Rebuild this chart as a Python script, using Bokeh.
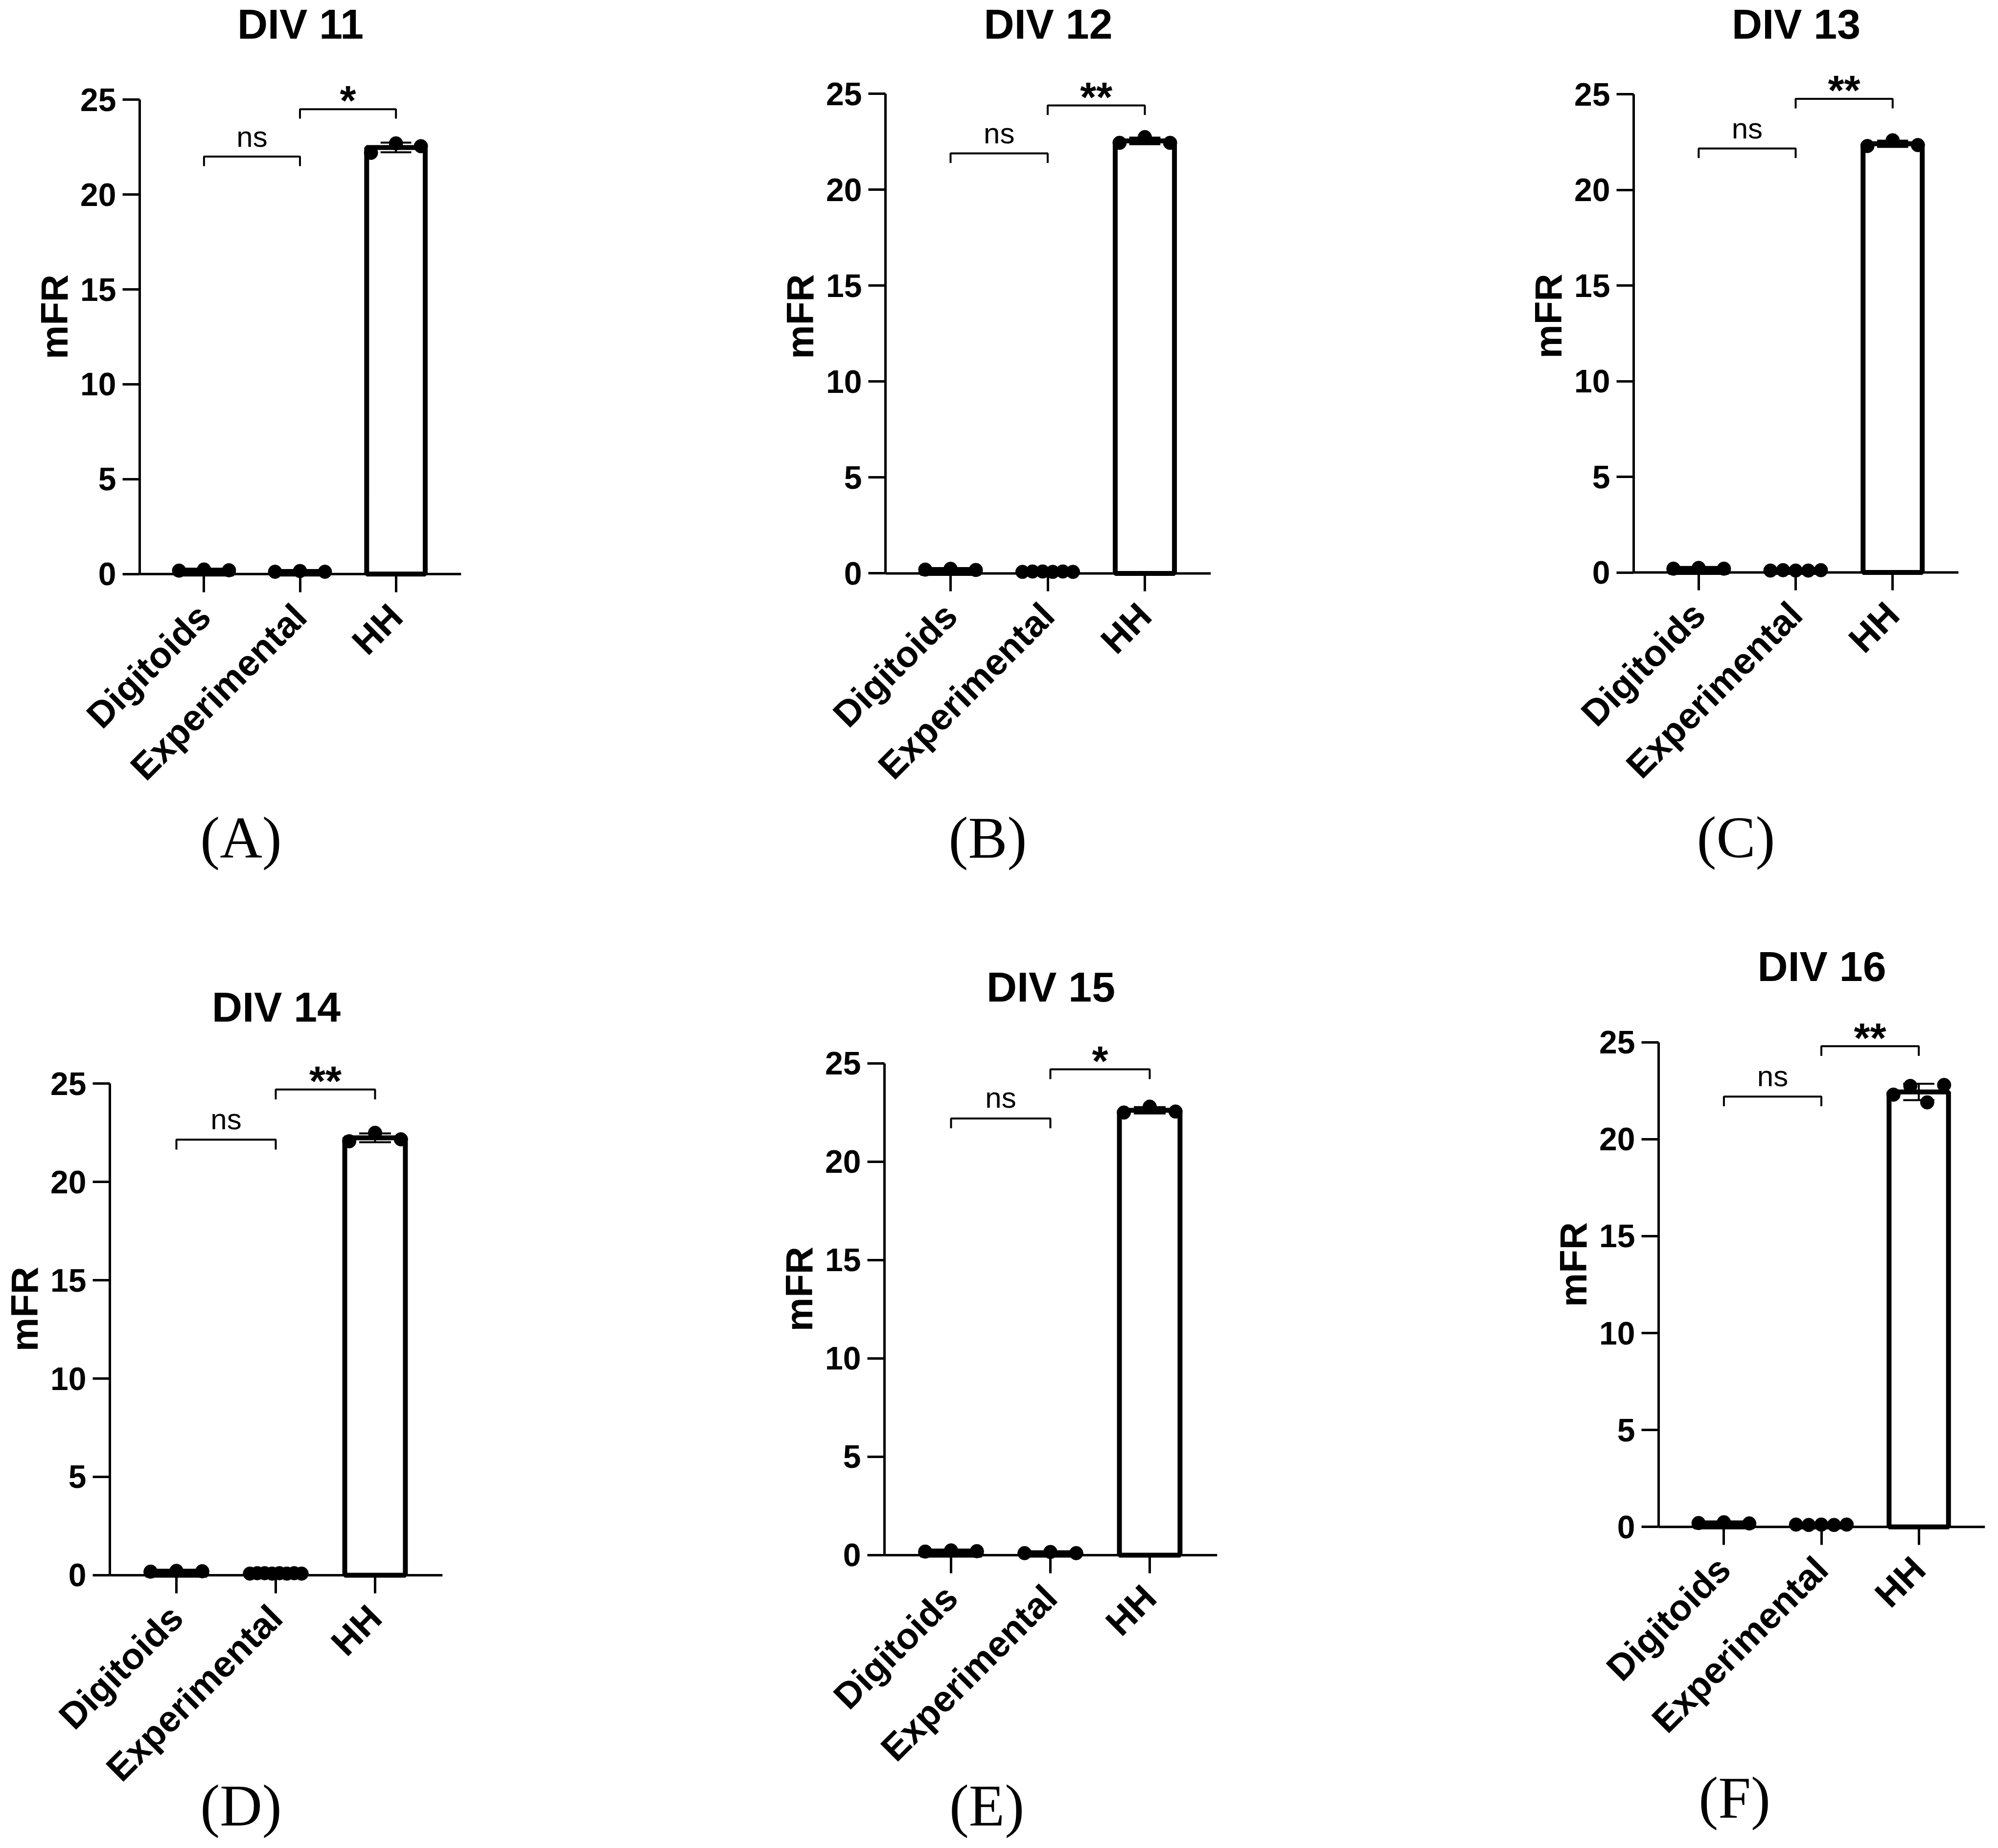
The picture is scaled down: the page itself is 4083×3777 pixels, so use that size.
import numpy as np
from math import pi
from bokeh.plotting import figure
from bokeh.layouts import row, column
from bokeh.models import ColumnDataSource, Range1d, FixedTicker, Span, Title, Spacer
from bokeh.core.properties import value
from bokeh.embed import file_html
from bokeh.resources import INLINE

# ---------------- data ----------------
categories = ["Digitoids", "Experimental", "HH"]
titles = ["DIV 11", "DIV 12", "DIV 13", "DIV 14", "DIV 15", "DIV 16"]
panel_tags = ["(A)", "(B)", "(C)", "(D)", "(E)", "(F)"]
y_ticks = [0, 5, 10, 15, 20, 25]
y_label = "mFR"

digitoids = [
    [0.18, 0.24, 0.20],
    [0.20, 0.24, 0.18],
    [0.20, 0.24, 0.20],
    [0.18, 0.22, 0.20],
    [0.18, 0.24, 0.20],
    [0.20, 0.24, 0.18],
]
experimental = [
    [0.12, 0.16, 0.12],
    [0.08, 0.10, 0.10, 0.08, 0.10, 0.08],
    [0.10, 0.12, 0.10, 0.10, 0.12],
    [0.08, 0.10, 0.10, 0.08, 0.10, 0.08, 0.10, 0.08],
    [0.10, 0.16, 0.10],
    [0.12, 0.10, 0.12, 0.10, 0.12],
]
hh = [
    [22.20, 22.70, 22.55],
    [22.45, 22.75, 22.45],
    [22.30, 22.60, 22.35],
    [22.07, 22.50, 22.17],
    [22.50, 22.80, 22.55],
    [22.30, 22.75, 21.90, 22.80],
]
sig_left = ["ns", "ns", "ns", "ns", "ns", "ns"]
sig_right = ["*", "**", "**", "**", "*", "**"]

# ---------------- layout / style ----------------
FONT = "Liberation Sans"
SERIF = "Liberation Serif"
Y0 = -0.6
X0, X1 = -0.67, 2.68
RAISE = 0.3           # text glyph baseline correction (fraction of font size)
ns_level = [22.0, 21.9, 22.17, 22.15, 22.2, 22.2]
st_level = [24.5, 24.4, 24.77, 24.7, 24.7, 24.8]

col_left = [8, 1150, 2700]
col_w = [1142, 1550, 1375]
row_top = [8, 1900]
row_h = [1892, 1869]
geo = [
    dict(axis_x=293, x_end=950, zero_y=1181, ppu=39.1, title_base=86, tag_x=500, tag_top=1658),
    dict(axis_x=1817, x_end=2482, zero_y=1179, ppu=39.5, title_base=86, tag_x=2026, tag_top=1658),
    dict(axis_x=3346, x_end=4010, zero_y=1177.5, ppu=39.4, title_base=86, tag_x=3555, tag_top=1658),
    dict(axis_x=232, x_end=912, zero_y=3227, ppu=40.5, title_base=2095, tag_x=500, tag_top=3636),
    dict(axis_x=1815, x_end=2495, zero_y=3185.5, ppu=40.5, title_base=2054, tag_x=2024, tag_top=3636),
    dict(axis_x=3397, x_end=4064, zero_y=3144, ppu=40.5, title_base=2012, tag_x=3552, tag_top=3636),
]
TITLE_FS, NS_FS, STAR_FS, TAG_FS = 86, 60, 85, 120
TITLE_H = 87           # measured height of the title box
XLAB_FS, XLAB_STANDOFF, XLAB_EXTENT = 75, 37, 376
TAG_LETTER_W = {"A": 0.722, "B": 0.667, "C": 0.667, "D": 0.722, "E": 0.611, "F": 0.556}


def make_panel(i):
    g = geo[i]
    r, c = divmod(i, 3)
    W = col_w[c]
    ppu = g["ppu"]

    # title geometry: text top = figure top + standoff/2
    text_top = g["title_base"] - 0.905 * TITLE_FS
    s = max(0, int(text_top - row_top[r]))
    fig_top = row_top[r] + s
    t_sd = 2 * (text_top - fig_top)
    frame_top = fig_top + 2 + TITLE_H + t_sd
    Y1 = (g["zero_y"] - frame_top) / ppu

    H = row_h[r] - s
    mbl = g["axis_x"] - col_left[c]
    fw = g["x_end"] - g["axis_x"]
    mbr = W - mbl - fw
    fh = (Y1 - Y0) * ppu
    mbb = int(round(H - (frame_top - fig_top) - fh))

    p = figure(width=W, height=H,
               x_range=Range1d(X0, X1), y_range=Range1d(Y0, Y1),
               output_backend="svg", toolbar_location=None,
               min_border_left=mbl, min_border_right=mbr,
               min_border_top=0, min_border_bottom=mbb)
    p.title = Title(text=titles[i], align="center", vertical_align="top",
                    standoff=t_sd, text_font=FONT, text_font_style="bold",
                    text_font_size=f"{TITLE_FS}px", text_color="black")
    p.outline_line_color = None
    p.xgrid.visible = False
    p.ygrid.visible = False
    p.background_fill_color = "white"
    p.border_fill_color = "white"

    groups = [digitoids[i], experimental[i], hh[i]]
    idx = list(range(len(categories)))
    means = [float(np.mean(v)) for v in groups]
    sds = [float(np.std(v, ddof=1)) for v in groups]

    # x axis line at y = 0
    p.add_layout(Span(location=0, dimension="width", line_color="black", line_width=5))

    src = ColumnDataSource(dict(x=idx, top=means, cat=categories))
    p.vbar(x="x", top="top", bottom=0, width=0.61, source=src,
           fill_color="white", line_color="black", line_width=10)

    # error bars (mean +/- SD)
    lo = [m - sd for m, sd in zip(means, sds)]
    hi = [m + sd for m, sd in zip(means, sds)]
    p.segment(x0=idx, y0=lo, x1=idx, y1=hi, line_color="black", line_width=4)
    cap = 0.16
    p.segment(x0=[x - cap for x in idx] * 2, y0=hi + lo,
              x1=[x + cap for x in idx] * 2, y1=hi + lo,
              line_color="black", line_width=4)

    # individual points
    px, py = [], []
    for k, vals in enumerate(groups):
        n = len(vals)
        offs = np.linspace(-0.26, 0.26, n) if n > 1 else [0.0]
        px += [k + o for o in offs]
        py += list(vals)
    p.scatter(px, py, size=28, color="black")

    # significance brackets
    a = ns_level[i]
    b = st_level[i]
    p.multi_line(xs=[[0, 0, 1, 1], [1, 1, 2, 2]],
                 ys=[[a - 0.5, a, a, a - 0.5], [b - 0.5, b, b, b - 0.5]],
                 line_color="black", line_width=4)
    p.text(x=[0.5], y=[a + 0.6 + RAISE * NS_FS / ppu], text=[sig_left[i]],
           text_align="center", text_baseline="alphabetic", text_font=value(FONT),
           text_font_size=f"{NS_FS}px", text_color="black")
    p.text(x=[1.5], y=[b - 0.2 + RAISE * STAR_FS / ppu], text=[sig_right[i]],
           text_align="center", text_baseline="alphabetic", text_font=value(FONT),
           text_font_style="bold", text_font_size=f"{STAR_FS}px", text_color="black")

    # axes
    ya = p.yaxis[0]
    ya.ticker = FixedTicker(ticks=y_ticks)
    ya.bounds = (0, 25)
    ya.axis_label = y_label
    ya.axis_label_text_font = FONT
    ya.axis_label_text_font_style = "bold"
    ya.axis_label_text_font_size = "78px"
    ya.axis_label_standoff = 6
    ya.major_label_text_font = FONT
    ya.major_label_text_font_style = "bold"
    ya.major_label_text_font_size = "66px"
    ya.major_label_standoff = 13
    ya.major_tick_out = 35
    ya.major_tick_in = 0
    ya.minor_tick_out = 0
    ya.minor_tick_in = 0
    ya.axis_line_width = 5
    ya.major_tick_line_width = 5
    ya.axis_line_color = "black"
    ya.major_tick_line_color = "black"
    ya.major_label_text_color = "black"
    ya.axis_label_text_color = "black"

    zero_gap = int(round(-Y0 * ppu))
    tick_out = 37 - zero_gap
    xa = p.xaxis[0]
    xa.ticker = FixedTicker(ticks=idx)
    xa.major_label_overrides = {k: cat for k, cat in enumerate(categories)}
    xa.major_label_orientation = pi / 4
    xa.major_label_text_font = FONT
    xa.major_label_text_font_style = "bold"
    xa.major_label_text_font_size = f"{XLAB_FS}px"
    xa.major_label_standoff = XLAB_STANDOFF
    xa.major_tick_in = zero_gap
    xa.major_tick_out = tick_out
    xa.minor_tick_out = 0
    xa.minor_tick_in = 0
    xa.axis_line_color = None
    xa.major_tick_line_width = 5
    xa.major_tick_line_color = "black"
    xa.major_label_text_color = "black"

    # panel tag below the axis labels
    frame_bottom = g["zero_y"] + zero_gap
    axis_bottom = frame_bottom + tick_out + XLAB_STANDOFF + XLAB_EXTENT
    sd = 2 * (g["tag_top"] - axis_bottom - 0.197 * TAG_FS)
    sd = max(sd, -TAG_FS - 14)
    tw = (0.666 + TAG_LETTER_W[panel_tags[i][1]]) * TAG_FS
    off = g["tag_x"] - tw / 2 - g["axis_x"]
    p.add_layout(Title(text=panel_tags[i], align="left", vertical_align="top",
                       offset=off, standoff=sd, text_font=SERIF,
                       text_font_style="normal", text_font_size=f"{TAG_FS}px",
                       text_color="black"), "below")

    if s > 0:
        return column(Spacer(width=W, height=s), p, spacing=0)
    return column(p, spacing=0)


panels = [make_panel(i) for i in range(6)]
layout = column(row(panels[0], panels[1], panels[2], spacing=0),
                row(panels[3], panels[4], panels[5], spacing=0),
                spacing=0)

open("out.html", "w").write(file_html(layout, INLINE))
